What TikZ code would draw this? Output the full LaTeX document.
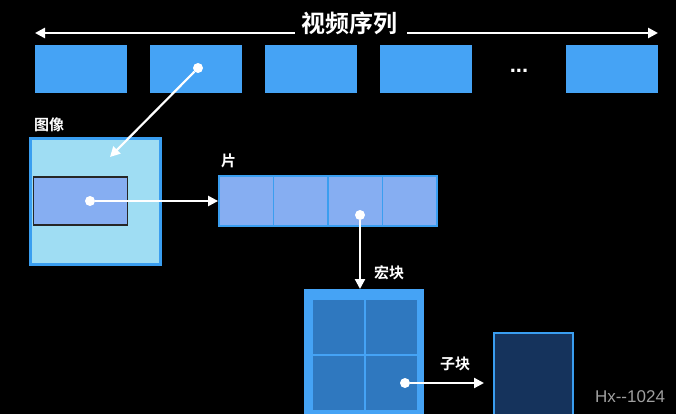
\documentclass[tikz,border=0pt]{standalone}
\usepackage{fontspec}
\newfontfamily\cjk{Noto Sans CJK SC}[BoldFont={* Bold}]
\setsansfont{Liberation Sans}
\usetikzlibrary{arrows.meta}
\definecolor{framebl}{HTML}{45A3F5}
\definecolor{edgebl}{HTML}{3A9EF0}
\definecolor{imgfill}{HTML}{9FDDF3}
\definecolor{slicefill}{HTML}{86AEF2}
\definecolor{mbcell}{HTML}{2F78BF}
\definecolor{subfill}{HTML}{15335C}
\tikzset{
  frame/.style={fill=framebl, draw=none},
  lbl/.style={text=white, font=\cjk\bfseries\fontsize{15}{15}\selectfont, inner sep=0pt},
  conn/.style={draw=white, line width=2.2pt, -{Triangle[length=10pt,width=10pt]}},
  dotc/.style={circle, fill=white, inner sep=0pt, minimum size=10pt},
}
\begin{document}
\begin{tikzpicture}[x=1pt,y=-1pt]
\fill[black] (0,0) rectangle (676,414);
\useasboundingbox (0,0) rectangle (676,414);
% title and arrows
\node[text=white, font=\cjk\bfseries\fontsize{24}{24}\selectfont, inner sep=0pt] (title) at (349,23) {视频序列};
\coordinate (la) at (35,33);
\coordinate (ra) at (658,33);
\draw[conn, line width=2.5pt] (title.west |- la) ++(-6,0) coordinate (tl) -- (la);
\draw[conn, line width=2.5pt] (title.east |- ra) ++(10,0) coordinate (tr) -- (ra);
% frames
\node[frame, minimum width=92pt, minimum height=48pt, inner sep=0pt] (f1) at (81,69) {};
\node[frame, minimum width=92pt, minimum height=48pt, inner sep=0pt] (f2) at (196,69) {};
\node[frame, minimum width=92pt, minimum height=48pt, inner sep=0pt] (f3) at (311,69) {};
\node[frame, minimum width=92pt, minimum height=48pt, inner sep=0pt] (f4) at (426,69) {};
\node[text=white, font=\sffamily\bfseries\fontsize{22}{22}\selectfont, inner sep=0pt] (dots) at (519,71) {...};
\node[frame, minimum width=92pt, minimum height=48pt, inner sep=0pt] (f5) at (612,69) {};
% image
\node[lbl, anchor=west] (imglbl) at (34,125) {图像};
\node[fill=imgfill, draw=edgebl, line width=2.5pt, minimum width=130pt, minimum height=126pt, inner sep=0pt] (img) at (95.5,201.5) {};
\node[fill=slicefill, draw=black!85, line width=1.4pt, minimum width=94pt, minimum height=48pt, inner sep=0pt] (sub) at (80.5,201) {};
% slice
\node[lbl, anchor=west] (slbl) at (221,161) {片};
\foreach \i in {0,1,2,3} {
  \node[fill=slicefill, draw=edgebl, line width=1.8pt, minimum width=54.5pt, minimum height=50pt, inner sep=0pt] (s\i) at ({246.25+54.5*\i},201) {};
}
% macroblock
\node[lbl, anchor=west] (mblbl) at (374,273) {宏块};
\fill[framebl] (304,289) rectangle (424,420);
\node[fill=mbcell, minimum width=51pt, minimum height=54pt, inner sep=0pt] (m1) at (338,326.5) {};
\node[fill=mbcell, minimum width=51pt, minimum height=54pt, inner sep=0pt] (m2) at (391,326.5) {};
\node[fill=mbcell, minimum width=51pt, minimum height=54pt, inner sep=0pt] (m3) at (338,383) {};
\node[fill=mbcell, minimum width=51pt, minimum height=54pt, inner sep=0pt] (m4) at (391,383) {};
% sub block
\node[lbl, anchor=west] (sblbl) at (440,364) {子块};
\fill[subfill, draw=edgebl, line width=2.5pt] (494,333) rectangle (573,420);
\coordinate (sbw) at (484,383);
\node[text=gray!75, font=\sffamily\fontsize{17}{17}\selectfont, inner sep=0pt] (wm) at (630,397) {Hx{-}{-}1024};
% connectors
\node[dotc] (d1) at (198,68) {};
\coordinate (a1) at (110,157);
\draw[conn] (d1) -- (a1);
\node[dotc] (d2) at (90,201) {};
\draw[conn] (d2) -- (s0.west);
\node[dotc] (d3) at (360,215) {};
\draw[conn] (d3) -- (360,289);
\node[dotc] (d4) at (405,383) {};
\draw[conn] (d4) -- (sbw);
\end{tikzpicture}
\end{document}
